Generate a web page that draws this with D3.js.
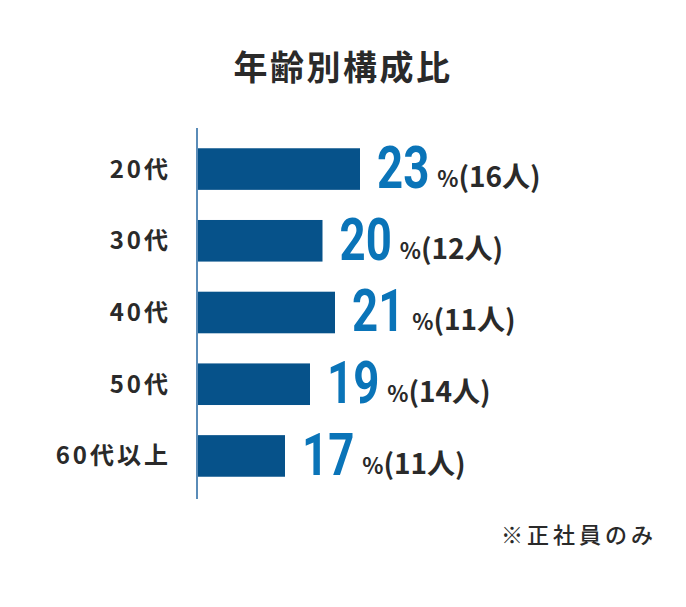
<!DOCTYPE html>
<html><head><meta charset="utf-8">
<script src="https://cdn.jsdelivr.net/npm/d3@7"></script>
<style>
body{margin:0;background:#fff;}
svg{display:block;}
</style></head>
<body>
<svg id="c" width="686" height="607"></svg>
<script>
const title = "年齢別構成比";
const categories = ["20代","30代","40代","50代","60代以上"];
const percents = [23,20,21,19,17];
const counts = [16,12,11,14,11];
const note = "※正社員のみ";

const svg = d3.select("#c");
const jp = "'Noto Sans CJK JP','Noto Sans',sans-serif";

const x = d3.scaleLinear().domain([10,30]).range([197.5,447.5]);
const y = d3.scaleBand().domain(categories).range([133.2,491.8]).paddingInner(0.42).paddingOuter(0.21);

svg.append("text").attr("x",343).attr("y",80).attr("text-anchor","middle")
  .attr("font-family",jp).attr("font-weight",700).attr("font-size",34)
  .attr("letter-spacing",2.5).attr("fill","#2a2a2a").text(title);

svg.selectAll("rect.bar").data(categories).join("rect").attr("class","bar")
  .attr("x",x(10)).attr("y",d=>y(d)).attr("height",y.bandwidth())
  .attr("width",(d,i)=>x(percents[i])-x(10)).attr("fill","#06528a");

svg.append("line").attr("x1",197).attr("x2",197).attr("y1",128).attr("y2",499)
  .attr("stroke","#5a8cb8").attr("stroke-width",2);

svg.selectAll("text.cat").data(categories).join("text").attr("class","cat")
  .attr("x",171).attr("y",d=>y(d)+y.bandwidth()/2+8.5).attr("text-anchor","end")
  .attr("font-family",jp).attr("font-weight",700).attr("font-size",24)
  .attr("letter-spacing",3).attr("fill","#2a2a2a").text(d=>d);

const sx = 0.76;
categories.forEach((c,i)=>{
  const base = y(c)+y.bandwidth()-2;
  const x0 = x(percents[i])+17;
  const g = svg.append("g").attr("transform",`translate(${x0},${base})`);
  const num = g.append("text").attr("transform",`scale(${sx},1)`)
    .attr("font-family","Roboto,'Liberation Sans',sans-serif").attr("font-weight",700)
    .attr("font-size",60).attr("fill","#0a74b8").text(percents[i]);
  const w = num.node().getComputedTextLength()*sx;
  const t = g.append("text").attr("x",w+8).attr("y",-1)
    .attr("font-family",jp).attr("font-weight",700).attr("fill","#2a2a2a");
  t.append("tspan").attr("font-size",22).text("%");
  t.append("tspan").attr("font-size",28).text(`(${counts[i]}人)`);
});

svg.append("text").attr("x",657).attr("y",543).attr("text-anchor","end")
  .attr("font-family",jp).attr("font-weight",500).attr("font-size",22)
  .attr("letter-spacing",4).attr("fill","#2a2a2a").text(note);
</script>
</body></html>
